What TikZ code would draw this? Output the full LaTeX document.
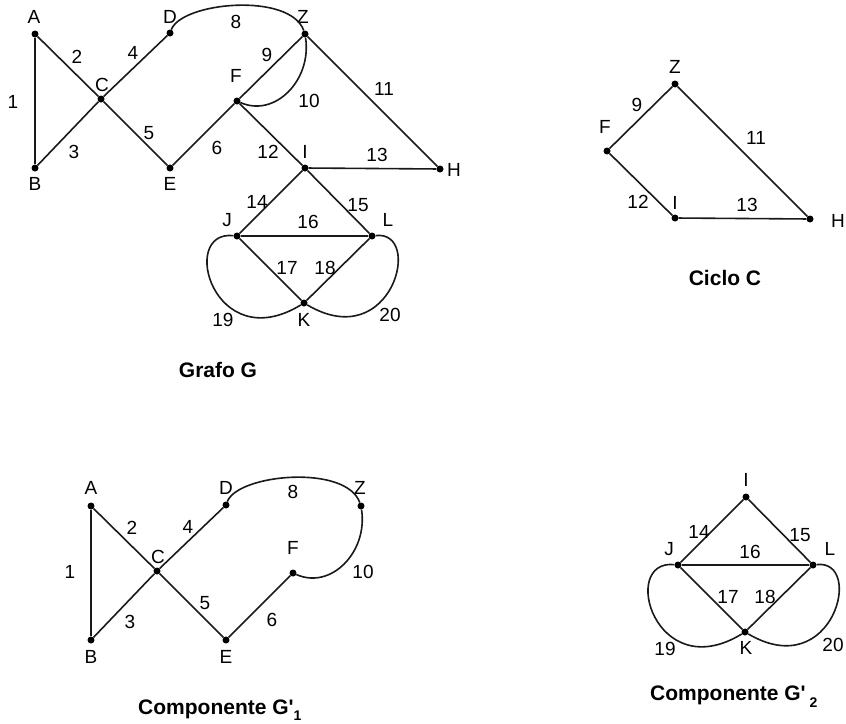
\documentclass[tikz,border=0pt]{standalone}
\usepackage{fontspec}
\setmainfont{Liberation Sans}[Ligatures=TeXOff]
\tikzset{
  vtx/.style={circle, fill=black, inner sep=0pt, minimum size=7pt},
  lbl/.style={font=\fontsize{19}{19}\selectfont, inner sep=0pt},
  ttl/.style={font=\fontsize{21}{21}\selectfont\bfseries, inner sep=0pt},
  gedge/.style={line width=1.6pt, black!90},
}
\newcommand{\gvtx}[4]{\node[vtx] (#1) at (#2) {}; \node[lbl] (#1t) at (#3) {#4};}
\newcommand{\glab}[3]{\node[lbl] (#1) at (#2) {#3};}
\begin{document}
\begin{tikzpicture}[x=1pt,y=-1pt]
\useasboundingbox (0,0) rectangle (846,723);

% ---------------- Grafo G ----------------
\begin{scope}
\gvtx{gA}{35,34}{34,17}{A}
\gvtx{gB}{35,168}{35,184}{B}
\gvtx{gC}{101,99}{102,85}{C}
\gvtx{gD}{170,33}{170,17}{D}
\gvtx{gZ}{305,34}{303,17}{Z}
\gvtx{gF}{237,101}{236,76}{F}
\gvtx{gE}{170,168}{170,184}{E}
\gvtx{gI}{305,168}{305,152}{I}
\gvtx{gH}{440,169}{454,170}{H}
\gvtx{gJ}{237,236}{227,220}{J}
\gvtx{gL}{372,236}{388,220}{L}
\gvtx{gK}{304,303}{304,320}{K}
\draw[gedge] (gA) -- (gB);
\draw[gedge] (gA) -- (gC);
\draw[gedge] (gB) -- (gC);
\draw[gedge] (gC) -- (gD);
\draw[gedge] (gC) -- (gE);
\draw[gedge] (gE) -- (gF);
\draw[gedge] (gD) .. controls (182,2) and (290,-8) .. (gZ);
\draw[gedge] (gF) -- (gZ);
\draw[gedge] (gZ) .. controls (312,80) and (275,118) .. (gF);
\draw[gedge] (gZ) -- (gH);
\draw[gedge] (gF) -- (gI);
\draw[gedge] (gI) -- (gH);
\draw[gedge] (gI) -- (gJ);
\draw[gedge] (gI) -- (gL);
\draw[gedge] (gJ) -- (gL);
\draw[gedge] (gJ) -- (gK);
\draw[gedge] (gL) -- (gK);
\draw[gedge] (gJ) .. controls (178,230) and (214,358) .. (gK);
\draw[gedge] (gL) .. controls (424,230) and (392,355) .. (gK);
\glab{g1}{13,102}{1}
\glab{g2}{77,57}{2}
\glab{g3}{74,152}{3}
\glab{g4}{133,53}{4}
\glab{g5}{149,133}{5}
\glab{g6}{217,148}{6}
\glab{g8}{236,22}{8}
\glab{g9}{267,55}{9}
\glab{g10}{309,101}{10}
\glab{g11}{384,89}{11}
\glab{g12}{268,152}{12}
\glab{g13}{377,155}{13}
\glab{g14}{257,202}{14}
\glab{g15}{358,205}{15}
\glab{g16}{308,222}{16}
\glab{g17}{287,268}{17}
\glab{g18}{325,268}{18}
\glab{g19}{223,320}{19}
\glab{g20}{390,315}{20}
\end{scope}
\node[ttl] (tG) at (218,370) {Grafo G};

% ---------------- Ciclo C ----------------
\begin{scope}[shift={(370,50)}]
\gvtx{cZ}{305,34}{305,17}{Z}
\gvtx{cF}{237,101}{235,77}{F}
\gvtx{cI}{305,168}{305,153}{I}
\gvtx{cH}{440,169}{468,171}{H}
\draw[gedge] (cF) -- (cZ);
\draw[gedge] (cZ) -- (cH);
\draw[gedge] (cF) -- (cI);
\draw[gedge] (cI) -- (cH);
\glab{c9}{267,55}{9}
\glab{c11}{386,88}{11}
\glab{c12}{268,152}{12}
\glab{c13}{377,155}{13}
\end{scope}
\node[ttl] (tC) at (725,278) {Ciclo C};

% ---------------- Componente G'1 ----------------
\begin{scope}[shift={(56,472)}]
\gvtx{pA}{35,34}{35,16}{A}
\gvtx{pB}{35,168}{35,185}{B}
\gvtx{pC}{101,99}{102,85}{C}
\gvtx{pD}{170,33}{170,16}{D}
\gvtx{pZ}{305,34}{304,16}{Z}
\gvtx{pF}{237,101}{237,76}{F}
\gvtx{pE}{170,168}{170,185}{E}
\draw[gedge] (pA) -- (pB);
\draw[gedge] (pA) -- (pC);
\draw[gedge] (pB) -- (pC);
\draw[gedge] (pC) -- (pD);
\draw[gedge] (pC) -- (pE);
\draw[gedge] (pE) -- (pF);
\draw[gedge] (pD) .. controls (182,2) and (290,-8) .. (pZ);
\draw[gedge] (pZ) .. controls (312,80) and (275,118) .. (pF);
\glab{p1}{14,100}{1}
\glab{p2}{76,56}{2}
\glab{p3}{74,150}{3}
\glab{p4}{132,55}{4}
\glab{p5}{149,131}{5}
\glab{p6}{216,148}{6}
\glab{p8}{237,20}{8}
\glab{p10}{307,100}{10}
\end{scope}
\node[ttl, anchor=base west] (tP) at (138,714) {Componente G'\raisebox{-6pt}{\fontsize{14}{14}\selectfont 1}};

% ---------------- Componente G'2 ----------------
\begin{scope}[shift={(441,329)}]
\gvtx{qI}{305,168}{305,151}{I}
\gvtx{qJ}{237,236}{228,220}{J}
\gvtx{qL}{372,236}{389,220}{L}
\gvtx{qK}{304,303}{305,319}{K}
\draw[gedge] (qI) -- (qJ);
\draw[gedge] (qI) -- (qL);
\draw[gedge] (qJ) -- (qL);
\draw[gedge] (qJ) -- (qK);
\draw[gedge] (qL) -- (qK);
\draw[gedge] (qJ) .. controls (178,230) and (214,358) .. (qK);
\draw[gedge] (qL) .. controls (424,230) and (392,355) .. (qK);
\glab{q14}{258,203}{14}
\glab{q15}{359,206}{15}
\glab{q16}{309,223}{16}
\glab{q17}{287,268}{17}
\glab{q18}{324,268}{18}
\glab{q19}{224,320}{19}
\glab{q20}{392,316}{20}
\end{scope}
\node[ttl, anchor=base west] (tQ) at (650,700) {Componente G'\hspace{4pt}\raisebox{-7pt}{\fontsize{14}{14}\selectfont 2}};
\end{tikzpicture}
\end{document}
